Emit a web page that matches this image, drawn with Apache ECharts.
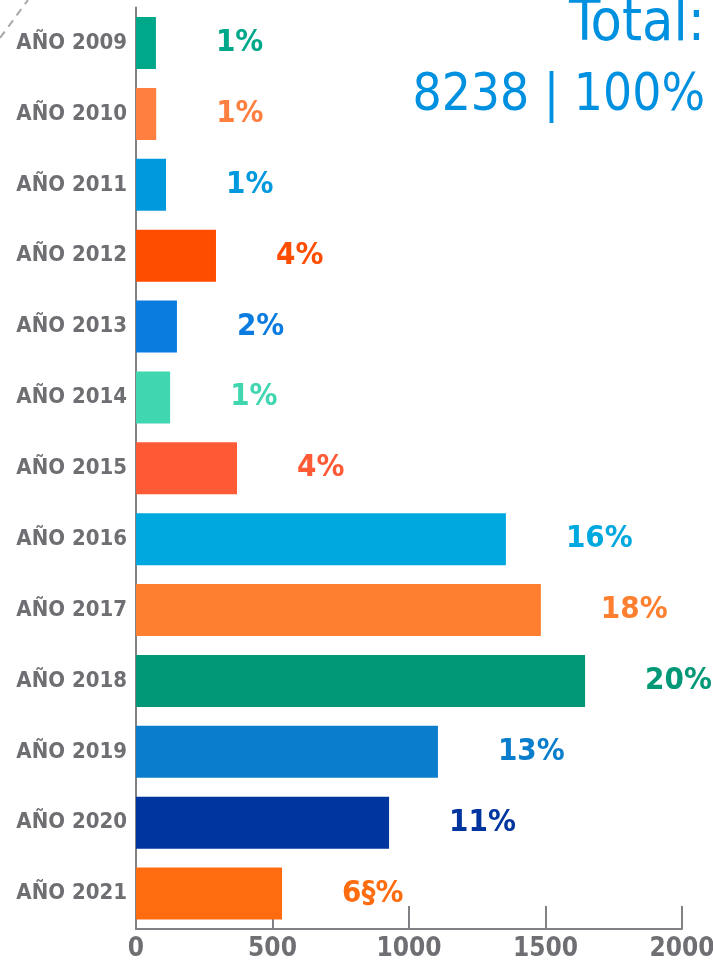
<!DOCTYPE html>
<html>
<head>
<meta charset="utf-8">
<script src="https://cdn.jsdelivr.net/npm/echarts@6/dist/echarts.min.js"></script>
<style>
  html, body { margin: 0; padding: 0; background: #fff; }
  #main { width: 713px; height: 960px; }
</style>
</head>
<body>
<div id="main"></div>
<script>
const years = ["AÑO 2009", "AÑO 2010", "AÑO 2011", "AÑO 2012", "AÑO 2013", "AÑO 2014", "AÑO 2015",
	"AÑO 2016", "AÑO 2017", "AÑO 2018", "AÑO 2019", "AÑO 2020", "AÑO 2021"];
const amounts = [73, 74, 110, 293, 150, 125, 370, 1355, 1483, 1645, 1106, 927, 535];
const percents = ["1%", "1%", "1%", "4%", "2%", "1%", "4%", "16%", "18%", "20%", "13%", "11%", "6§%"];
const colors = ["#00A88A", "#FF7F40", "#0099DD", "#FF4D00", "#0A7CE0", "#40D6B0", "#FF5A36",
	"#00A8E0", "#FF7F30", "#009877", "#0A7ECC", "#0035A0", "#FF6C10"];
const xTicks = [0, 500, 1000, 1500, 2000];

const font = '"DejaVu Sans Condensed", "Liberation Sans Narrow", sans-serif';
const gray = "#6e6e73";

let myChart = echarts.init(document.getElementById("main"));

let options = {
	backgroundColor: "#fff",
	animation: false,
	grid: { left: 136, right: 31, top: 7.6, bottom: 31, containLabel: false, outerBoundsMode: "none" },
	xAxis: {
		type: "value",
		min: xTicks[0],
		max: xTicks[xTicks.length - 1],
		interval: 500,
		splitLine: { show: false },
		axisLine: { show: true, lineStyle: { color: "#808085", width: 2 } },
		axisTick: { show: true, inside: true, length: 23, lineStyle: { color: "#808085", width: 2 } },
		axisLabel: {
			color: gray, fontFamily: font, fontWeight: "bold", fontSize: 26, margin: 7,
			formatter: (v) => String(v),
		},
	},
	yAxis: {
		type: "category",
		inverse: true,
		data: years,
		axisLine: { show: true, lineStyle: { color: "#808085", width: 2 } },
		axisTick: { show: false },
		axisLabel: { color: gray, fontFamily: font, fontWeight: "bold", fontSize: 22, margin: 9 },
	},
	series: [
		{
			type: "bar",
			barWidth: 52,
			data: amounts.map((v, i) => ({
				value: v,
				itemStyle: { color: colors[i] },
				label: { color: colors[i] },
			})),
			label: {
				show: true,
				position: "right",
				distance: 60,
				fontFamily: font,
				fontWeight: "bold",
				fontSize: 31,
				formatter: (p) => percents[p.dataIndex],
			},
		},
	],
	graphic: [
		{
			type: "line",
			shape: { x1: 0, y1: 38, x2: 28, y2: 0 },
			style: { stroke: "#a8a8ac", lineWidth: 2, lineDash: [8, 6] },
		},
		{
			type: "text",
			x: 705,
			y: 54,
			style: {
				text: "Total:", font: '57px ' + font, fill: "#0090E0",
				textAlign: "right", textVerticalAlign: "bottom",
			},
		},
		{
			type: "text",
			x: 705,
			y: 122,
			style: {
				text: "8238 | 100%", font: '51px ' + font, fill: "#0090E0",
				textAlign: "right", textVerticalAlign: "bottom",
			},
		},
	],
};

myChart.setOption(options);
</script>
</body>
</html>
